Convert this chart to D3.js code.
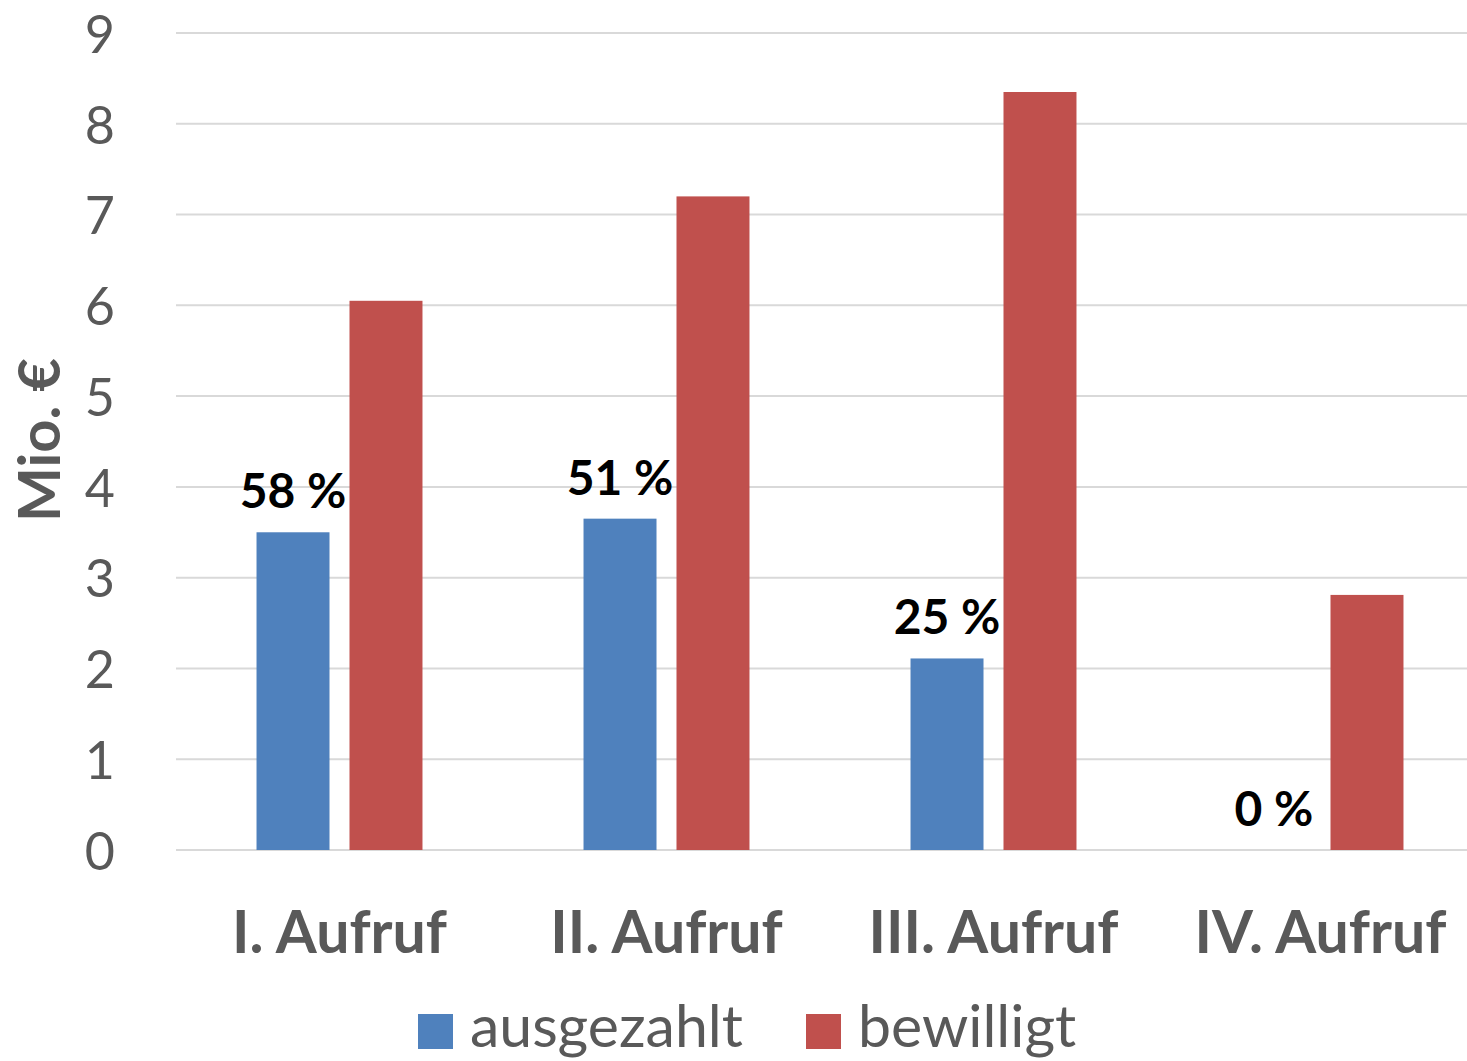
<!DOCTYPE html>
<html>
<head>
<meta charset="utf-8">
<script src="https://cdn.jsdelivr.net/npm/d3@7"></script>
<style>
  html, body { margin: 0; padding: 0; background: #fff; overflow: hidden; }
  svg text { font-family: Lato, "Open Sans", sans-serif; }
</style>
</head>
<body>
<div id="chart"></div>
<script>
const categories = ['I. Aufruf', 'II. Aufruf', 'III. Aufruf', 'IV. Aufruf'];
const seriesNames = ['ausgezahlt', 'bewilligt'];
const ausgezahlt = [3.5, 3.65, 2.11, 0];
const bewilligt = [6.05, 7.2, 8.35, 2.81];
const percentLabels = ['58 %', '51 %', '25 %', '0 %'];
const yTicks = [0, 1, 2, 3, 4, 5, 6, 7, 8, 9];
const colors = ['#4F81BD', '#C0504D'];

const width = 1467, height = 1061;
// plot area runs a little past the right edge (the picture is cropped there)
const margin = { left: 176, top: 33 };
const innerW = 1308;
const innerH = 817;

const svg = d3.select('#chart').append('svg')
    .attr('width', width)
    .attr('height', height);

const g = svg.append('g')
    .attr('transform', `translate(${margin.left},${margin.top})`);

const x0 = d3.scaleBand()
    .domain(categories)
    .range([0, innerW]);

const x1 = d3.scaleBand()
    .domain(seriesNames)
    .range([0, x0.bandwidth()])
    .paddingInner(0.215)
    .paddingOuter(0.866);

const y = d3.scaleLinear()
    .domain([0, 9])
    .range([innerH, 0]);

// Gridlines
g.append('g')
    .selectAll('line')
    .data(yTicks)
    .join('line')
    .attr('x1', 0)
    .attr('x2', innerW)
    .attr('y1', d => y(d))
    .attr('y2', d => y(d))
    .attr('stroke', '#D9D9D9')
    .attr('stroke-width', 2);

// Y axis labels
const yAxis = g.append('g')
    .attr('transform', 'translate(-61,0)')
    .call(d3.axisLeft(y).tickValues(yTicks).tickSize(0).tickPadding(0));
yAxis.select('.domain').remove();
yAxis.selectAll('text')
    .attr('fill', '#595959')
    .style('font-size', '52px')
    .attr('dy', '0.37em');

// Y axis title
svg.append('text')
    .attr('transform', 'translate(60,440) rotate(-90)')
    .attr('text-anchor', 'middle')
    .attr('fill', '#595959')
    .style('font-size', '58px')
    .style('font-weight', 'bold')
    .text('Mio. €');

// Bars
const groups = g.selectAll('.grp')
    .data(categories)
    .join('g')
    .attr('class', 'grp')
    .attr('transform', d => `translate(${x0(d)},0)`);

groups.selectAll('rect')
    .data((d, i) => [
        { key: 'ausgezahlt', value: ausgezahlt[i] },
        { key: 'bewilligt', value: bewilligt[i] }
    ])
    .join('rect')
    .attr('x', d => x1(d.key))
    .attr('y', d => y(d.value))
    .attr('width', x1.bandwidth())
    .attr('height', d => innerH - y(d.value))
    .attr('fill', (d, i) => colors[i]);

// Data labels above the blue bars
groups.append('text')
    .attr('x', x1('ausgezahlt') + x1.bandwidth() / 2)
    .attr('y', (d, i) => y(ausgezahlt[i]) - 24)
    .attr('text-anchor', 'middle')
    .attr('fill', '#000')
    .style('font-size', '48px')
    .style('font-weight', 'bold')
    .text((d, i) => percentLabels[i]);

// Category labels
const xAxis = g.append('g')
    .attr('transform', `translate(0,${innerH})`)
    .call(d3.axisBottom(x0).tickSize(0).tickPadding(0));
xAxis.select('.domain').remove();
xAxis.selectAll('text')
    .attr('y', 103)
    .attr('dy', 0)
    .attr('fill', '#595959')
    .style('font-size', '59px')
    .style('font-weight', 'bold');

// Legend
const legendX = [418, 806];
const legend = svg.append('g');
seriesNames.forEach((name, i) => {
    legend.append('rect')
        .attr('x', legendX[i])
        .attr('y', 1014)
        .attr('width', 35)
        .attr('height', 35)
        .attr('fill', colors[i]);
    legend.append('text')
        .attr('x', legendX[i] + 52)
        .attr('y', 1047)
        .attr('fill', '#595959')
        .style('font-size', '59px')
        .text(name);
});
</script>
</body>
</html>
